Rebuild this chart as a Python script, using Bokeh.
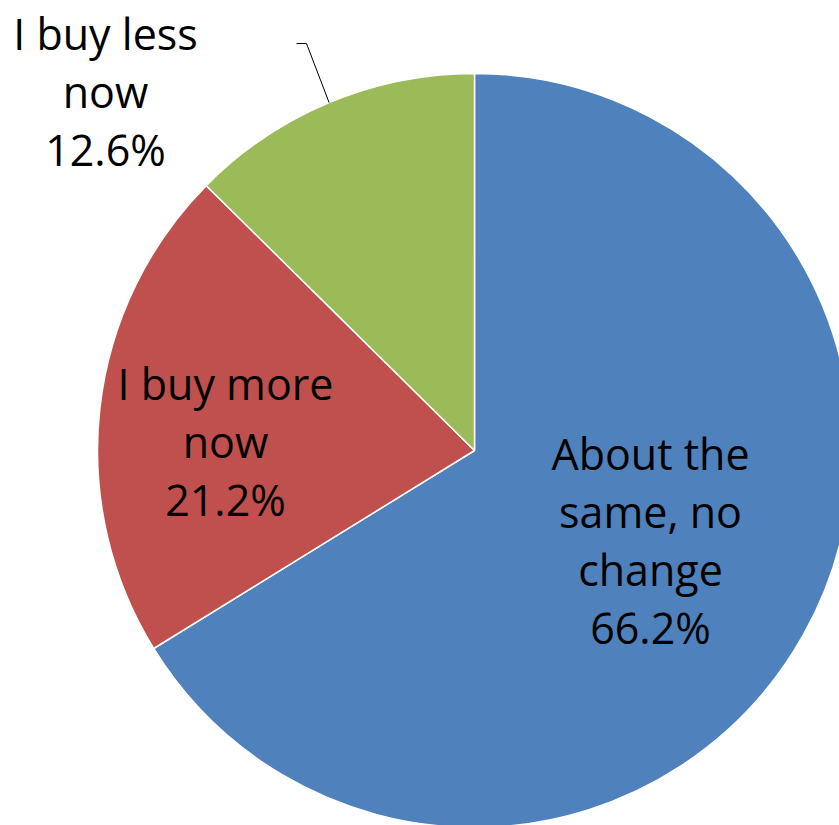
import math
from bokeh.plotting import figure
from bokeh.models import Range1d
from bokeh.core.properties import value
from bokeh.embed import file_html
from bokeh.resources import INLINE

# ---- data ----
categories = ["About the same, no change", "I buy more now", "I buy less now"]
shares = [66.2, 21.2, 12.6]
label_lines = [["About the", "same, no", "change", "66.2%"],
               ["I buy more", "now", "21.2%"],
               ["I buy less", "now", "12.6%"]]
colors = ["#4F81BD", "#C0504D", "#9BBB59"]

# ---- layout (pixel space, y measured from top) ----
W, H = 839, 825
CX, CY, R = 474, 450, 377
FONT = "Open Sans"
FONT_SIZE = "43px"
LINE_STEP = 58
BASE_SHIFT = 15
label_anchor = [(650, 468), (225, 398), (105, 48)]  # centre x, first baseline (px from top)

p = figure(width=W, height=H, x_range=Range1d(0, W), y_range=Range1d(0, H),
           output_backend="svg", toolbar_location=None, min_border=0)
p.axis.visible = False
p.grid.visible = False
p.outline_line_color = None
p.background_fill_color = "white"
p.border_fill_color = "white"

total = sum(shares)
start = math.pi / 2
mids = []
for share, col in zip(shares, colors):
    sweep = 2 * math.pi * share / total
    end = start - sweep
    p.wedge(x=CX, y=H - CY, radius=R, start_angle=start, end_angle=end,
            direction="clock", fill_color=col, line_color="white", line_width=1.5)
    mids.append((start + end) / 2)
    start = end

# leader line for the small slice
ang = mids[2]
ex = CX + R * math.cos(ang)
ey = (H - CY) + R * math.sin(ang)
p.line(x=[296, 306, ex], y=[H - 43, H - 43, ey], line_color="black", line_width=1)

for lines, (ax, ay) in zip(label_lines, label_anchor):
    for i, t in enumerate(lines):
        p.text(x=[ax], y=[H - (ay - BASE_SHIFT + i * LINE_STEP)], text=[t],
               text_align="center", text_baseline="alphabetic",
               text_font=value(FONT), text_font_size=FONT_SIZE, text_color="black")

open("out.html", "w").write(file_html(p, INLINE))
